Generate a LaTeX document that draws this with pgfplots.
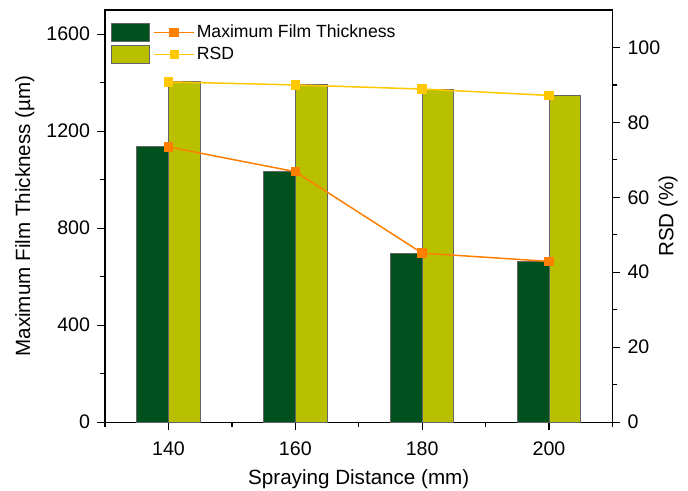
\documentclass[border=0pt]{standalone}
\usepackage{fontspec}
\setmainfont{Liberation Sans}
\usepackage{pgfplots}
\pgfplotsset{compat=1.18}
\usepackage{pgfplotstable}
\usetikzlibrary{calc}

\definecolor{filmgreen}{RGB}{0,81,30}
\definecolor{rsdolive}{RGB}{184,192,0}
\definecolor{filmorange}{RGB}{255,128,0}
\definecolor{rsdyellow}{RGB}{255,200,0}
\definecolor{bargray}{RGB}{100,100,100}

% spraying distance (mm), maximum film thickness (um), RSD (%)
\pgfplotstableread{
dist thick rsd
140 1135 90.8
160 1033 90.0
180 697  88.9
200 663  87.2
}\filmdata

\pgfplotsset{
  common/.style={
    scale only axis, width=253.5pt, height=205.9pt,
    xmin=130, xmax=210,
    /pgf/number format/assume math mode=true,
    /pgf/number format/1000 sep={},
    tick label style={font=\fontsize{9.8}{11}\selectfont},
    label style={font=\fontsize{10.3}{12}\selectfont},
    axis line style={line width=0.6pt},
    every tick/.style={line width=0.6pt, black},
    tick align=outside,
    major tick length=4pt, minor tick length=2.5pt,
  },
  barstyle/.style={ybar, bar width=5, draw=bargray, line width=0.5pt},
}

\begin{document}
\begin{tikzpicture}
% left scale: frame, thickness bars
\begin{axis}[common, name=main,
  ymin=0, ymax=1700,
  ytick={0,400,...,1600}, minor ytick={200,600,1000,1400},
  xtick={140,160,180,200}, minor xtick={130,150,170,190,210},
  xtick pos=bottom, ytick pos=left,
  xticklabel style={yshift=-2.5pt},
  xlabel={Spraying Distance (mm)},
  ylabel={Maximum Film Thickness (µm)},
  xlabel style={at={(axis description cs:0.5,-0.139)}, anchor=center},
  ylabel style={at={(axis description cs:-0.158,0.5)}, anchor=center},
]
\addplot[barstyle, fill=filmgreen, bar shift=-7.92pt] table[x=dist, y=thick] {\filmdata};
\end{axis}

% right scale: RSD bars and line
\begin{axis}[common,
  ymin=0, ymax=110,
  axis x line=none, axis y line*=right,
  ytick={0,20,...,100}, minor ytick={10,30,...,90},
  ylabel={RSD (\%)},
  ylabel style={at={(axis description cs:1.1095,0.5)}, anchor=center},
]
\addplot[barstyle, fill=rsdolive, bar shift=7.92pt] table[x=dist, y=rsd] {\filmdata};
\addplot[rsdyellow, line width=0.75pt, mark=square*, mark size=2pt,
  mark options={solid, fill=rsdyellow, draw=rsdyellow}]
  table[x=dist, y=rsd] {\filmdata};
\end{axis}

% left scale again: thickness line on top, legend
\begin{axis}[common,
  ymin=0, ymax=1700, hide axis,
  legend style={at={(axis description cs:0,1)}, anchor=north west,
    xshift=3pt, yshift=-6pt, draw=none, fill=none, inner sep=0pt,
    row sep=1.3pt, font=\fontsize{8.8}{10}\selectfont,
    nodes={inner sep=1pt}},
  legend cell align=left,
]
\addplot[filmorange, line width=0.75pt, mark=square*, mark size=2pt,
  mark options={solid, fill=filmorange, draw=filmorange},
  legend image code/.code={
    \draw[fill=filmgreen, draw=bargray, line width=0.5pt] (0pt,-4.6pt) rectangle (18.8pt,4.6pt);
    \draw[filmorange, line width=0.75pt] (21pt,0pt) -- (41pt,0pt);
    \fill[filmorange] (29pt,-2pt) rectangle (33pt,2pt);
  }]
  table[x=dist, y=thick] {\filmdata};
\addlegendentry{Maximum Film Thickness}
\addlegendimage{legend image code/.code={
    \draw[fill=rsdolive, draw=bargray, line width=0.5pt] (0pt,-4.6pt) rectangle (18.8pt,4.6pt);
    \draw[rsdyellow, line width=0.75pt] (21pt,0pt) -- (41pt,0pt);
    \fill[rsdyellow] (29pt,-2pt) rectangle (33pt,2pt);
  }}
\addlegendentry{RSD}
\end{axis}

\pgfresetboundingbox
\path ($(main.south west)+(-52.5pt,-34.15pt)$) rectangle ($(main.north east)+(37.75pt,5pt)$);
\end{tikzpicture}
\end{document}
